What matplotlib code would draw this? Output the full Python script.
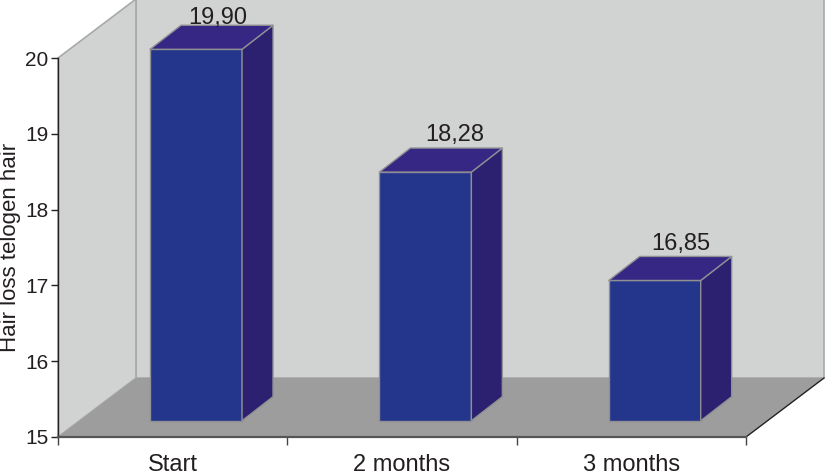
import matplotlib
matplotlib.use('Agg')
import matplotlib.pyplot as plt
from matplotlib.patches import Polygon

plt.rcParams['font.family'] = ['Liberation Sans', 'DejaVu Sans']

categories = ['Start', '2 months', '3 months']
values = [19.90, 18.28, 16.85]
value_labels = ['19,90', '18,28', '16,85']
y_ticks = [15, 16, 17, 18, 19, 20]

# depth of the fake 3d box, in data units
WALL_DX, WALL_DY = 0.34, 0.778
BAR_DX, BAR_DY = 0.135, 0.317
# bars stand a bit inside the floor
INSET_X, INSET_Y = 0.102, 0.215
BAR_W = 0.401
# label shift from the bar centre (x, y)
LABEL_SHIFT = [(0.095, 0.27), (0.13, 0.34), (0.115, 0.34)]

fig = plt.figure(figsize=(8.25, 4.74), dpi=100)
ax = fig.add_axes([58 / 825, 37 / 474, 688 / 825, 379 / 474])
ax.set_xlim(0, 3)
ax.set_ylim(15, 20)
ax.patch.set_visible(False)


def poly(pts, face, edge='none', lw=1.0, z=1):
    ax.add_patch(Polygon(pts, closed=True, facecolor=face, edgecolor=edge,
                         linewidth=lw, clip_on=False, zorder=z,
                         joinstyle='round'))


# walls and floor
poly([(WALL_DX, 15 + WALL_DY), (3 + WALL_DX, 15 + WALL_DY),
      (3 + WALL_DX, 20 + WALL_DY), (WALL_DX, 20 + WALL_DY)],
     '#d1d3d2', '#a8aaaa', 1.2, 1)
poly([(0, 15), (WALL_DX, 15 + WALL_DY), (WALL_DX, 20 + WALL_DY), (0, 20)],
     '#d1d3d2', '#a8aaaa', 1.2, 1)
poly([(0, 15), (3, 15), (3 + WALL_DX, 15 + WALL_DY), (WALL_DX, 15 + WALL_DY)],
     '#9d9d9d', z=2)
ax.plot([3, 3 + WALL_DX], [15, 15 + WALL_DY], color='#222222', lw=1.0,
        clip_on=False, zorder=3)

# bars
centers = [i + 0.5 + INSET_X for i in range(len(values))]
heights = [v - 15 for v in values]
ax.bar(centers, heights, BAR_W, bottom=15 + INSET_Y, color='#24368c',
       edgecolor='#8f8f94', linewidth=1.0, zorder=4, clip_on=False)
for c, v, txt, (sx, sy) in zip(centers, values, value_labels, LABEL_SHIFT):
    left = c - BAR_W / 2
    right = c + BAR_W / 2
    top = v + INSET_Y
    base = 15 + INSET_Y
    poly([(right, base), (right + BAR_DX, base + BAR_DY),
          (right + BAR_DX, top + BAR_DY), (right, top)],
         '#2b2170', '#8f8f94', 1.0, 4)
    poly([(left, top), (right, top), (right + BAR_DX, top + BAR_DY),
          (left + BAR_DX, top + BAR_DY)],
         '#362784', '#8f8f94', 1.0, 4)
    ax.text(c + sx, top + sy, txt, ha='center', va='bottom', fontsize=17,
            color='#231f20', zorder=5, clip_on=False)

# axes
for side in ['top', 'right']:
    ax.spines[side].set_visible(False)
ax.spines['left'].set_color('#222222')
ax.spines['left'].set_linewidth(1.0)
ax.spines['left'].set_zorder(6)
ax.spines['bottom'].set_color('#555555')
ax.spines['bottom'].set_linewidth(1.6)
ax.spines['bottom'].set_zorder(6)

ax.set_yticks(y_ticks)
ax.tick_params(axis='y', length=5, width=1.0, color='#222222', pad=2,
               labelsize=15, labelcolor='#231f20')
ax.set_xticks([0, 1, 2, 3])
ax.set_xticklabels([])
ax.tick_params(axis='x', length=6, width=1.0, color='#444444')
ax.set_xticks([0.5, 1.5, 2.5], minor=True)
ax.set_xticklabels(categories, minor=True)
ax.tick_params(axis='x', which='minor', length=0, pad=12.5, labelsize=17,
               labelcolor='#231f20')

fig.text(11 / 825, 1 - 247 / 474, 'Hair loss telogen hair', rotation=90,
         ha='center', va='center', fontsize=16, color='#231f20')

fig.savefig('out.png', dpi=100)
